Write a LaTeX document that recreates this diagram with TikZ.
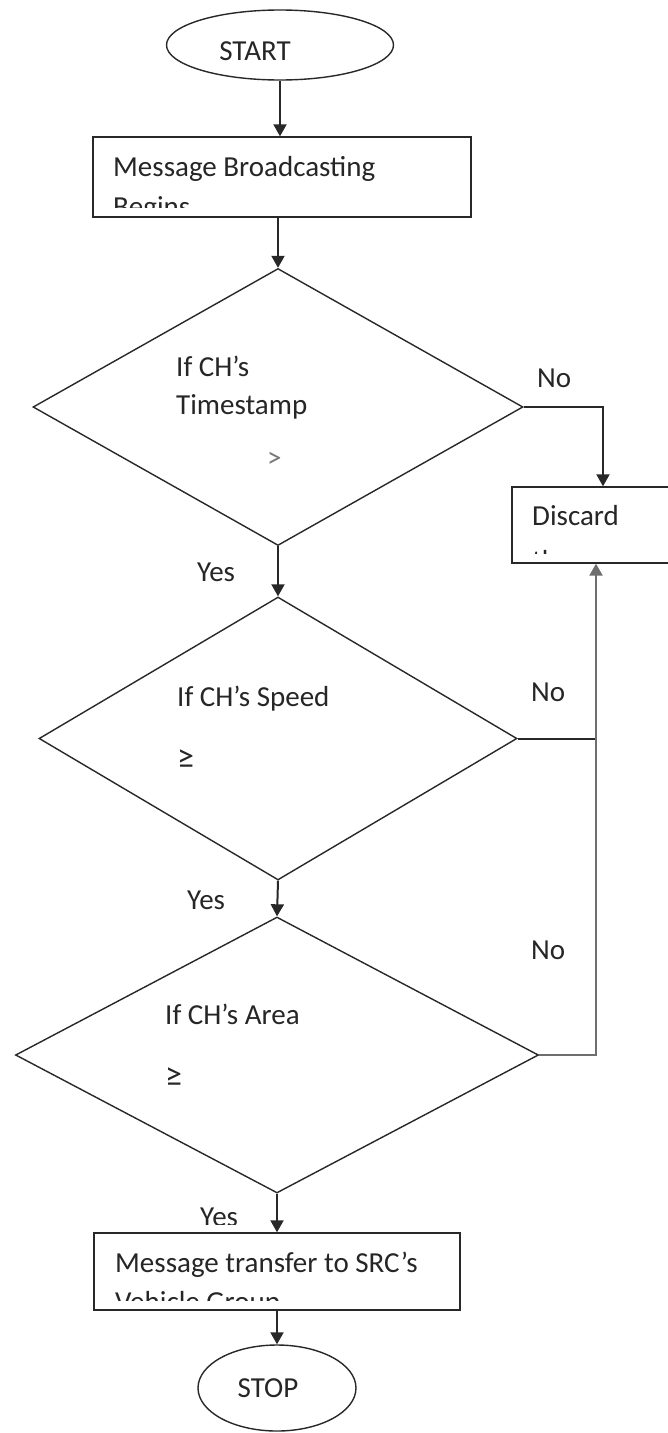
\documentclass[tikz,border=0pt]{standalone}
\usepackage{fontspec}
\setmainfont{Carlito}
\usetikzlibrary{shapes.geometric,arrows.meta}

\definecolor{ink}{RGB}{40,40,40}
\definecolor{txt}{RGB}{38,38,38}
\definecolor{retline}{RGB}{110,110,110}
\definecolor{faint}{RGB}{120,120,120}

\begin{document}
\begin{tikzpicture}[x=1pt,y=-1pt,
  outline/.style={draw=ink, line width=1.4pt, fill=white},
  terminal/.style={outline, ellipse, inner sep=0pt},
  process/.style={outline, rectangle, inner sep=0pt},
  decision/.style={outline, diamond, inner sep=0pt},
  tip/.style={-{Triangle[width=13pt,length=12pt]}},
  conn/.style={draw=ink, line width=2pt, tip},
  retpath/.style={draw=retline, line width=2.4pt},
  txtlbl/.style={inner sep=0pt, anchor=base west, text=txt,
                 font=\fontsize{29}{38}\selectfont},
  relsym/.style={txtlbl, font=\fontsize{34}{38}\selectfont},
]
% page frame
\clip (0,0) rectangle (668,1433);
\fill[white] (0,0) rectangle (668,1433);

% ---------- shapes ----------
\node[terminal, minimum width=227, minimum height=70] (start) at (280,45) {};
\node[process, minimum width=378, minimum height=80] (box1) at (282,177) {};
\node[decision, minimum width=490, minimum height=277] (d1) at (278,407) {};
\node[process, minimum width=182, minimum height=76] (discard) at (603,525) {};
\node[decision, minimum width=478, minimum height=283] (d2) at (278,738.5) {};
\node[decision, minimum width=523, minimum height=276] (d3) at (277,1055) {};
\node[process, minimum width=366, minimum height=77] (box2) at (277,1271.5) {};
\node[terminal, minimum width=158, minimum height=86] (stop) at (277,1388) {};

% ---------- texts ----------
\node[txtlbl, anchor=base] (starttxt) at (255,60) {START};
\node[txtlbl, anchor=base] (stoptxt) at (268,1397) {STOP};

\begin{scope}
  \clip (box1.north west) rectangle ([yshift=10pt]box1.south east);
  \node[txtlbl] (box1a) at (113,176) {Message Broadcasting};
  \node[txtlbl] (box1b) at (113,216) {Begins};
\end{scope}

\begin{scope}
  \clip (discard.north west) rectangle ([yshift=10pt]discard.south east);
  \node[txtlbl] (disca) at (532,525) {Discard};
  \node[txtlbl] (discb) at (532,570) {the};
\end{scope}

\begin{scope}
  \clip (box2.north west) rectangle ([yshift=10pt]box2.south east);
  \node[txtlbl] (box2a) at (115,1272) {Message transfer to SRC’s};
  \node[txtlbl] (box2b) at (115,1311) {Vehicle Group};
\end{scope}

\node[txtlbl] (d1a) at (176,376) {If CH’s};
\node[txtlbl] (d1b) at (176,414) {Timestamp};
\node[txtlbl, text=faint] (d1c) at (267,467) {>};

\node[txtlbl] (d2a) at (177,706) {If CH’s Speed};
\node[relsym] (d2b) at (177,768) {≥};

\node[txtlbl] (d3a) at (165,1024) {If CH’s Area};
\node[relsym] (d3b) at (165,1086) {≥};

% branch labels
\node[txtlbl] (no1) at (537,387) {No};
\node[txtlbl] (no2) at (531,701) {No};
\node[txtlbl] (no3) at (531,959) {No};
\node[txtlbl] (yes1) at (197,581) {Yes};
\node[txtlbl] (yes2) at (187,909) {Yes};
\begin{scope}
  \clip (150,1190) rectangle (262,1224);
  \node[txtlbl] (yes3) at (200,1226) {Yes};
\end{scope}

% ---------- connectors ----------
\draw[conn] (start.south) -- (start.south |- box1.north);
\draw[conn] (box1.south -| d1.north) -- (d1.north);
\draw[conn] (d1.south) -- (d2.north);
\draw[conn] (d2.south) -- (d3.north);
\draw[conn] (d3.south) -- (box2.north);
\draw[conn] (box2.south) -- (stop.north);

\draw[conn] (d1.east) -| (discard.north);

\coordinate (retfoot) at ([xshift=-7pt]discard.south);
\draw[draw=ink, line width=2pt] (d2.east) -- (d2.east -| retfoot);
\draw[retpath, tip] (d3.east) -| (retfoot);
\end{tikzpicture}
\end{document}
